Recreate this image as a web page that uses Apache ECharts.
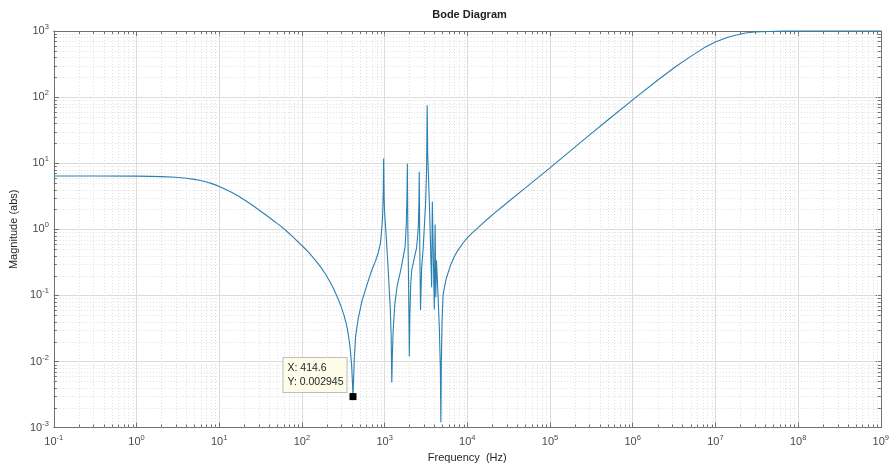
<!DOCTYPE html>
<html>
<head>
<meta charset="utf-8">
<title>Bode Diagram</title>
<script src="https://cdn.jsdelivr.net/npm/echarts@6/dist/echarts.min.js"></script>
<style>
  html, body { margin: 0; padding: 0; background: #ffffff; }
  #chart { width: 892px; height: 468px; }
</style>
</head>
<body>
<div id="chart"></div>
<script>
// Magnitude response (abs) versus frequency (Hz)
const freqHz = [
  0.1, 0.3, 1, 1.5, 2, 3, 4, 5, 6, 7, 8, 9, 10, 11, 12, 13.5, 15, 17, 20, 23,
  26, 30, 35, 40, 45, 50, 55, 60, 67, 75, 83, 93, 105, 120, 135, 150, 170, 195,
  220, 240, 260, 281, 300, 320, 337, 353, 365, 375, 388, 400, 408, 414.6,
  421, 430, 446, 480, 535, 587, 643, 700, 775, 840, 888, 930, 950, 965, 973,
  985, 1000, 1038, 1080, 1120, 1170, 1200, 1222, 1240, 1270, 1330, 1420, 1542,
  1680, 1770, 1830, 1865, 1884, 1910, 1950, 1991, 2020, 2070, 2125, 2300, 2439,
  2553, 2600, 2625, 2660, 2720, 2800, 2930, 3124, 3220, 3273, 3320, 3490, 3706,
  3777, 3990, 4081, 4160, 4240, 4400, 4600, 4720, 4790, 4850, 4950, 5093, 5300,
  5600, 6300, 7000, 7690, 8800, 10000, 11300, 12700, 15000, 17600, 22000, 30000,
  50000, 100000, 200000, 304000, 500000, 1100000, 2000000, 3320000, 5000000,
  7600000, 10000000, 14400000, 22900000, 30000000, 43500000, 70000000,
  100000000, 1000000000
];
const magnitude = [
  6.4, 6.4, 6.37, 6.33, 6.27, 6.12, 5.93, 5.7, 5.46, 5.2, 4.95, 4.7, 4.45, 4.22, 4.0, 3.72, 3.47, 3.18, 2.8, 2.5,
  2.25, 1.98, 1.72, 1.52, 1.36, 1.23, 1.125, 1.03, 0.91, 0.8, 0.71, 0.62, 0.535, 0.45, 0.38, 0.325, 0.265, 0.205,
  0.158, 0.128, 0.103, 0.082, 0.066, 0.052, 0.041, 0.032, 0.025, 0.02, 0.0135, 0.0085, 0.005, 0.002945,
  0.005, 0.011, 0.024, 0.045, 0.084, 0.122, 0.175, 0.24, 0.33, 0.45, 0.6, 1.1, 1.8, 4, 11.8,
  3.2, 1.8, 0.9, 0.4, 0.18, 0.065, 0.025, 0.0048, 0.012, 0.03, 0.075, 0.14, 0.22,
  0.38, 0.55, 1.2, 3.0, 9.8, 1.0, 0.15, 0.0119, 0.05, 0.15, 0.24, 0.38, 0.53,
  1.05, 2.5, 7.4, 0.6, 0.06, 0.25, 0.53, 2.34, 8, 75, 14, 2.2, 0.133,
  2.64, 0.061, 1.18, 0.094, 0.34, 0.12, 0.03, 0.008, 0.0012, 0.01, 0.04, 0.1, 0.135,
  0.185, 0.29, 0.39, 0.48, 0.61, 0.74, 0.865, 0.99, 1.2, 1.43, 1.82, 2.5,
  4.2, 8.5, 17.5, 27, 45, 100, 180, 290, 410,
  575, 680, 810, 935, 965, 985, 995,
  998, 1000
];

// Data tip
const tipFreq = 414.6;
const tipMag = 0.002945;

// Decade tick exponents
const xTickExponents = [-1, 0, 1, 2, 3, 4, 5, 6, 7, 8, 9];
const yTickExponents = [-3, -2, -1, 0, 1, 2, 3];
const minorMultipliers = [2, 3, 4, 5, 6, 7, 8, 9];

const X_MIN = Math.pow(10, xTickExponents[0]);
const X_MAX = Math.pow(10, xTickExponents[xTickExponents.length - 1]);
const Y_MIN = Math.pow(10, yTickExponents[0]);
const Y_MAX = Math.pow(10, yTickExponents[yTickExponents.length - 1]);

const FONT = "'Liberation Sans', Arial, Helvetica, sans-serif";
const AXIS_COLOR = '#707070';
const LABEL_COLOR = '#4a4a4a';
const MAJOR_GRID = '#dcdcdc';
const MINOR_GRID = '#e0e0e0';
const LINE_COLOR = '#2a80b0';

const curve = freqHz.map((f, i) => [f, magnitude[i]]);

// Minor (2..9) positions within each decade, for grid lines and ticks
const minorX = [];
for (let i = 0; i < xTickExponents.length - 1; i++) {
  minorMultipliers.forEach(m => minorX.push([m * Math.pow(10, xTickExponents[i]), 1]));
}
const minorY = [];
for (let i = 0; i < yTickExponents.length - 1; i++) {
  minorMultipliers.forEach(m => minorY.push([1, m * Math.pow(10, yTickExponents[i])]));
}

function powerLabel(v) {
  const e = Math.round(Math.log10(v));
  return '{b|10}{s|' + e + '}';
}
const richPow = {
  b: { fontSize: 11, fontFamily: FONT, color: LABEL_COLOR, lineHeight: 16, verticalAlign: 'middle' },
  s: { fontSize: 7.5, fontFamily: FONT, color: LABEL_COLOR, lineHeight: 8, verticalAlign: 'top' }
};

function renderMinorX(params, api) {
  const cs = params.coordSys;
  const px = Math.round(api.coord([api.value(0), Y_MIN])[0]) + 0.5;
  const top = cs.y, bottom = cs.y + cs.height;
  return {
    type: 'group',
    children: [
      { type: 'line', shape: { x1: px, y1: top, x2: px, y2: bottom }, style: { stroke: MINOR_GRID, lineWidth: 1, lineDash: [1, 2] } },
      { type: 'line', shape: { x1: px, y1: bottom, x2: px, y2: bottom - 3 }, style: { stroke: AXIS_COLOR, lineWidth: 1 } },
      { type: 'line', shape: { x1: px, y1: top, x2: px, y2: top + 3 }, style: { stroke: AXIS_COLOR, lineWidth: 1 } }
    ]
  };
}
function renderMinorY(params, api) {
  const cs = params.coordSys;
  const py = Math.round(api.coord([X_MIN, api.value(1)])[1]) + 0.5;
  const left = cs.x, right = cs.x + cs.width;
  return {
    type: 'group',
    children: [
      { type: 'line', shape: { x1: left, y1: py, x2: right, y2: py }, style: { stroke: MINOR_GRID, lineWidth: 1, lineDash: [1, 2] } },
      { type: 'line', shape: { x1: left, y1: py, x2: left + 3, y2: py }, style: { stroke: AXIS_COLOR, lineWidth: 1 } },
      { type: 'line', shape: { x1: right, y1: py, x2: right - 3, y2: py }, style: { stroke: AXIS_COLOR, lineWidth: 1 } }
    ]
  };
}

const chart = echarts.init(document.getElementById('chart'), null, { renderer: 'canvas' });

const logAxisBase = {
  type: 'log',
  logBase: 10,
  interval: 1,
  axisLine: { show: true, onZero: false, lineStyle: { color: AXIS_COLOR, width: 1 } },
  axisTick: { show: true, inside: true, length: 5, lineStyle: { color: AXIS_COLOR, width: 1 } },
  minorTick: { show: false },
  minorSplitLine: { show: false }
};

chart.setOption({
  animation: false,
  backgroundColor: '#ffffff',
  title: {
    text: 'Bode Diagram',
    left: 469.5,
    textAlign: 'center',
    top: 9,
    padding: 0,
    textStyle: { fontFamily: FONT, fontSize: 11, fontWeight: 'bold', color: '#222222' }
  },
  grid: { left: 52, top: 31, right: 5, bottom: 36, containLabel: false },
  xAxis: [
    Object.assign({}, logAxisBase, {
      position: 'bottom',
      min: X_MIN, max: X_MAX,
      name: 'Frequency  (Hz)',
      nameLocation: 'middle',
      nameGap: 24,
      nameTextStyle: { fontFamily: FONT, fontSize: 11, color: '#262626' },
      axisLabel: { show: true, margin: 6, formatter: powerLabel, rich: richPow },
      splitLine: { show: true, lineStyle: { color: MAJOR_GRID, width: 1 } }
    }),
    Object.assign({}, logAxisBase, {
      position: 'top',
      min: X_MIN, max: X_MAX,
      axisLabel: { show: false },
      splitLine: { show: false }
    })
  ],
  yAxis: [
    Object.assign({}, logAxisBase, {
      position: 'left',
      min: Y_MIN, max: Y_MAX,
      name: 'Magnitude (abs)',
      nameLocation: 'middle',
      nameRotate: 90,
      nameGap: 27,
      nameTextStyle: { fontFamily: FONT, fontSize: 11, color: '#262626' },
      axisLabel: { show: true, margin: 5, formatter: powerLabel, rich: richPow },
      splitLine: { show: true, lineStyle: { color: MAJOR_GRID, width: 1 } }
    }),
    Object.assign({}, logAxisBase, {
      position: 'right',
      min: Y_MIN, max: Y_MAX,
      axisLabel: { show: false },
      splitLine: { show: false }
    })
  ],
  series: [
    {
      type: 'custom',
      name: 'minorX',
      xAxisIndex: 0, yAxisIndex: 0,
      silent: true,
      clip: false,
      z: 1,
      renderItem: renderMinorX,
      data: minorX
    },
    {
      type: 'custom',
      name: 'minorY',
      xAxisIndex: 0, yAxisIndex: 0,
      silent: true,
      clip: false,
      z: 1,
      renderItem: renderMinorY,
      data: minorY
    },
    {
      type: 'line',
      name: 'Magnitude',
      xAxisIndex: 0, yAxisIndex: 0,
      data: curve,
      showSymbol: false,
      symbol: 'none',
      clip: false,
      z: 3,
      lineStyle: { color: LINE_COLOR, width: 1.1 },
      markPoint: {
        silent: true,
        z: 10,
        symbol: 'rect',
        symbolSize: 7,
        itemStyle: { color: '#000000' },
        data: [{
          coord: [tipFreq, tipMag],
          label: {
            show: true,
            position: [-66, -35],
            align: 'left',
            verticalAlign: 'top',
            formatter: 'X: ' + tipFreq + '\nY: ' + tipMag,
            fontFamily: FONT,
            fontSize: 10.5,
            lineHeight: 14,
            color: '#262626',
            backgroundColor: '#fcfce8',
            borderColor: '#bdbdbd',
            borderWidth: 1,
            padding: [3, 3, 3, 4]
          }
        }]
      }
    }
  ]
});
</script>
</body>
</html>
